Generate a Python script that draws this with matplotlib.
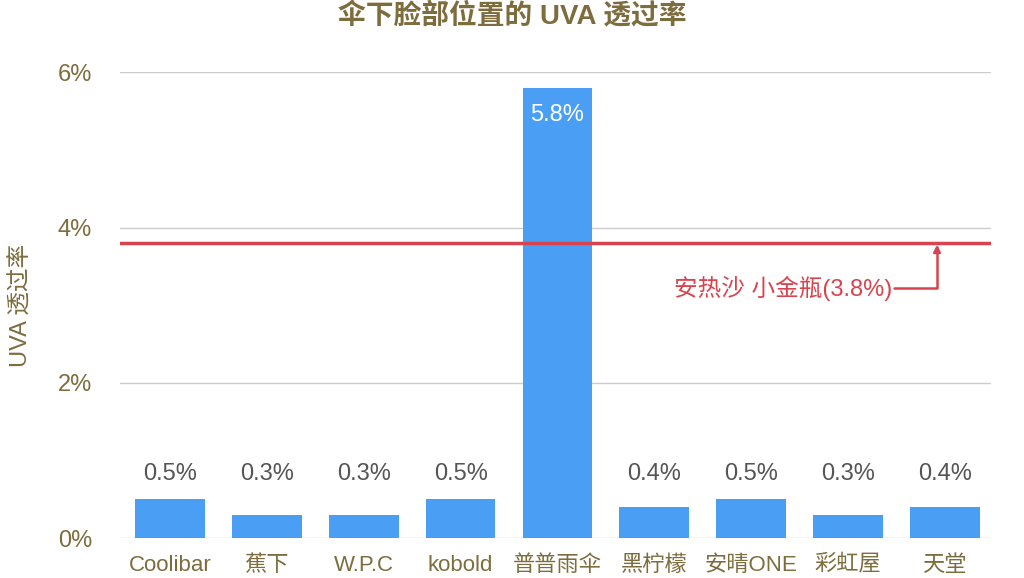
import matplotlib
matplotlib.use("Agg")
import matplotlib.pyplot as plt

plt.rcParams['font.family'] = ['Liberation Sans', 'Noto Sans CJK SC', 'DejaVu Sans']

categories = ["Coolibar", "蕉下", "W.P.C", "kobold", "普普雨伞", "黑柠檬", "安晴ONE", "彩虹屋", "天堂"]
values = [0.5, 0.3, 0.3, 0.5, 5.8, 0.4, 0.5, 0.3, 0.4]
ref_value = 3.8
ref_label = "安热沙 小金瓶(3.8%)"
yticks = [0, 2, 4, 6]

olive = "#7d6c3c"
blue = "#4a9ff5"
red = "#d7444f"

fig = plt.figure(figsize=(10.24, 5.78), dpi=100)
ax = fig.add_axes([0.117, 0.069, 0.851, 0.806])
x = range(len(categories))
ax.bar(x, values, width=0.72, color=blue, zorder=2)
for i, v in enumerate(values):
    if v > 5:
        ax.text(i, v - 0.35, f"{v}%", ha="center", va="center", color="white", fontsize=17)
    else:
        ax.text(i, 0.83, f"{v}%", ha="center", va="center", color="#555555", fontsize=17)

ax.axhline(ref_value, color=red, lw=2.5, zorder=3)
ax.annotate("", xy=(7.92, ref_value - 0.02), xytext=(7.48, 3.22),
            arrowprops=dict(arrowstyle="-|>", color=red, lw=1.8,
                            connectionstyle="angle,angleA=0,angleB=90,rad=0",
                            shrinkA=0, shrinkB=0))
ax.text(7.46, 3.22, ref_label, ha="right", va="center", color=red, fontsize=17)

ax.set_xlim(-0.52, 8.48)
ax.set_ylim(0, 6)
ax.set_yticks(yticks)
ax.set_yticklabels([f"{t}%" for t in yticks], color=olive, fontsize=17)
ax.set_xticks(list(x))
ax.set_xticklabels(categories, color=olive, fontsize=16)
ax.tick_params(axis='x', length=0, pad=12)
ax.tick_params(axis='y', length=0, pad=20)
ax.yaxis.grid(True, color="#cccccc", lw=1, zorder=0)
for s in ax.spines.values():
    s.set_visible(False)
ax.set_ylabel("UVA 透过率", color=olive, fontsize=17, labelpad=18)
fig.suptitle("伞下脸部位置的 UVA 透过率", color=olive, fontsize=20, fontweight="bold", y=0.995)
fig.savefig("out.png", dpi=100)
